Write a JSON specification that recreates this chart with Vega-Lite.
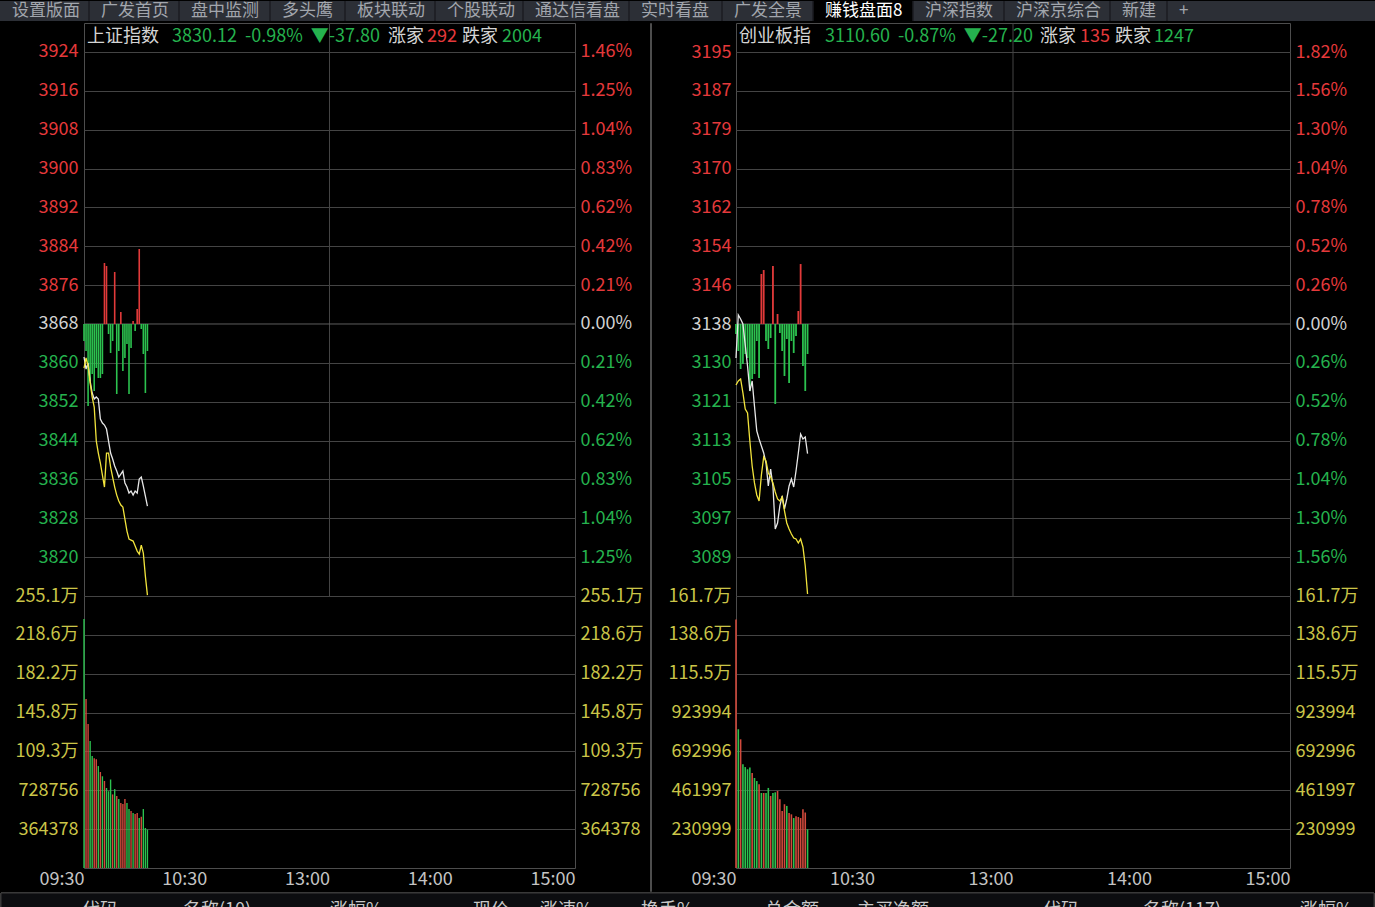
{
  "$schema": "https://vega.github.io/schema/vega-lite/v6.json",
  "background": "#000000",
  "padding": 0,
  "spacing": 0,
  "config": {
    "font": "Noto Sans CJK SC",
    "view": {"stroke": "#4d4d4d", "fill": null},
    "axis": {"labelFont": "Noto Sans CJK SC", "labelFontSize": 18, "domain": false, "ticks": false, "tickSize": 0, "labelFlush": false, "labelOverlap": false, "gridColor": "#444444", "gridWidth": 1, "title": null},
    "text": {"font": "Noto Sans CJK SC"},
    "concat": {"spacing": 0}
  },
  "datasets": {
    "sh": [
      {"t":"09:30","m":0,"px":3861.07,"avg":3858.78,"rgLevel":3864.39,"vol":2335000,"dir":"down"},
      {"t":"09:31","m":1,"px":3858.57,"avg":3860.86,"rgLevel":3862.31,"vol":1585000,"dir":"up"},
      {"t":"09:32","m":2,"px":3859.82,"avg":3859.20,"rgLevel":3850.90,"vol":1350000,"dir":"up"},
      {"t":"09:33","m":3,"px":3856.08,"avg":3855.67,"rgLevel":3856.09,"vol":1190000,"dir":"down"},
      {"t":"09:34","m":4,"px":3853.59,"avg":3852.76,"rgLevel":3857.54,"vol":1050000,"dir":"down"},
      {"t":"09:35","m":5,"px":3852.34,"avg":3850.68,"rgLevel":3854.01,"vol":1030000,"dir":"up"},
      {"t":"09:36","m":6,"px":3852.76,"avg":3843.62,"rgLevel":3858.79,"vol":1020000,"dir":"up"},
      {"t":"09:37","m":7,"px":3852.34,"avg":3841.13,"rgLevel":3856.71,"vol":956000,"dir":"down"},
      {"t":"09:38","m":8,"px":3848.19,"avg":3839.05,"rgLevel":3856.71,"vol":900000,"dir":"up"},
      {"t":"09:39","m":9,"px":3847.36,"avg":3836.56,"rgLevel":3857.54,"vol":860000,"dir":"down"},
      {"t":"09:40","m":10,"px":3846.94,"avg":3834.07,"rgLevel":3880.58,"vol":816000,"dir":"up"},
      {"t":"09:41","m":11,"px":3846.11,"avg":3841.13,"rgLevel":3879.96,"vol":750000,"dir":"down"},
      {"t":"09:42","m":12,"px":3843.62,"avg":3841.13,"rgLevel":3865.84,"vol":720000,"dir":"down"},
      {"t":"09:43","m":13,"px":3841.13,"avg":3838.22,"rgLevel":3861.90,"vol":830000,"dir":"down"},
      {"t":"09:44","m":14,"px":3839.88,"avg":3836.14,"rgLevel":3864.39,"vol":690000,"dir":"up"},
      {"t":"09:45","m":15,"px":3838.43,"avg":3834.07,"rgLevel":3878.72,"vol":740000,"dir":"down"},
      {"t":"09:46","m":16,"px":3837.39,"avg":3832.40,"rgLevel":3853.39,"vol":675000,"dir":"up"},
      {"t":"09:47","m":17,"px":3836.14,"avg":3831.16,"rgLevel":3862.31,"vol":647000,"dir":"down"},
      {"t":"09:48","m":18,"px":3836.77,"avg":3830.33,"rgLevel":3870.41,"vol":610000,"dir":"up"},
      {"t":"09:49","m":19,"px":3837.39,"avg":3829.91,"rgLevel":3858.16,"vol":600000,"dir":"up"},
      {"t":"09:50","m":20,"px":3834.90,"avg":3827.42,"rgLevel":3860.86,"vol":647000,"dir":"up"},
      {"t":"09:51","m":21,"px":3834.07,"avg":3824.93,"rgLevel":3863.77,"vol":610000,"dir":"down"},
      {"t":"09:52","m":22,"px":3832.82,"avg":3823.26,"rgLevel":3853.39,"vol":553000,"dir":"down"},
      {"t":"09:53","m":23,"px":3833.24,"avg":3823.06,"rgLevel":3862.94,"vol":534000,"dir":"up"},
      {"t":"09:54","m":24,"px":3832.41,"avg":3822.85,"rgLevel":3868.54,"vol":515000,"dir":"down"},
      {"t":"09:55","m":25,"px":3833.24,"avg":3821.81,"rgLevel":3866.47,"vol":506000,"dir":"up"},
      {"t":"09:56","m":26,"px":3832.82,"avg":3820.77,"rgLevel":3871.03,"vol":515000,"dir":"up"},
      {"t":"09:57","m":27,"px":3835.73,"avg":3820.15,"rgLevel":3883.49,"vol":469000,"dir":"down"},
      {"t":"09:58","m":28,"px":3836.14,"avg":3822.02,"rgLevel":3866.88,"vol":480000,"dir":"up"},
      {"t":"09:59","m":29,"px":3834.27,"avg":3820.36,"rgLevel":3861.69,"vol":553000,"dir":"down"},
      {"t":"10:00","m":30,"px":3832.20,"avg":3815.58,"rgLevel":3853.60,"vol":375000,"dir":"down"},
      {"t":"10:01","m":31,"px":3830.12,"avg":3811.63,"rgLevel":3862.31,"vol":360000,"dir":"down"}
    ],
    "cy": [
      {"t":"09:30","m":0,"px":3130.66,"avg":3125.00,"rgLevel":3135.70,"vol":1478000,"dir":"up"},
      {"t":"09:31","m":1,"px":3139.69,"avg":3125.84,"rgLevel":3132.13,"vol":825000,"dir":"down"},
      {"t":"09:32","m":2,"px":3138.85,"avg":3126.26,"rgLevel":3128.35,"vol":765000,"dir":"up"},
      {"t":"09:33","m":3,"px":3137.80,"avg":3123.32,"rgLevel":3129.40,"vol":617000,"dir":"down"},
      {"t":"09:34","m":4,"px":3133.39,"avg":3119.96,"rgLevel":3131.50,"vol":600000,"dir":"down"},
      {"t":"09:35","m":5,"px":3128.98,"avg":3119.12,"rgLevel":3130.66,"vol":587000,"dir":"down"},
      {"t":"09:36","m":6,"px":3123.74,"avg":3113.24,"rgLevel":3123.74,"vol":597000,"dir":"down"},
      {"t":"09:37","m":7,"px":3125.84,"avg":3107.99,"rgLevel":3126.26,"vol":565000,"dir":"up"},
      {"t":"09:38","m":8,"px":3120.59,"avg":3104.43,"rgLevel":3127.30,"vol":535000,"dir":"down"},
      {"t":"09:39","m":9,"px":3115.34,"avg":3101.91,"rgLevel":3134.23,"vol":517000,"dir":"down"},
      {"t":"09:40","m":10,"px":3113.66,"avg":3100.65,"rgLevel":3126.47,"vol":498000,"dir":"up"},
      {"t":"09:41","m":11,"px":3112.19,"avg":3106.11,"rgLevel":3148.30,"vol":446000,"dir":"down"},
      {"t":"09:42","m":12,"px":3110.72,"avg":3109.88,"rgLevel":3149.13,"vol":446000,"dir":"up"},
      {"t":"09:43","m":13,"px":3108.62,"avg":3109.04,"rgLevel":3134.23,"vol":446000,"dir":"down"},
      {"t":"09:44","m":14,"px":3103.80,"avg":3106.53,"rgLevel":3132.55,"vol":476000,"dir":"down"},
      {"t":"09:45","m":15,"px":3107.36,"avg":3105.69,"rgLevel":3134.86,"vol":428000,"dir":"up"},
      {"t":"09:46","m":16,"px":3103.80,"avg":3104.43,"rgLevel":3149.97,"vol":446000,"dir":"down"},
      {"t":"09:47","m":17,"px":3094.77,"avg":3102.54,"rgLevel":3121.01,"vol":450000,"dir":"down"},
      {"t":"09:48","m":18,"px":3096.03,"avg":3101.07,"rgLevel":3139.90,"vol":458000,"dir":"up"},
      {"t":"09:49","m":19,"px":3099.60,"avg":3100.65,"rgLevel":3135.91,"vol":408000,"dir":"up"},
      {"t":"09:50","m":20,"px":3101.70,"avg":3101.49,"rgLevel":3132.13,"vol":339000,"dir":"up"},
      {"t":"09:51","m":21,"px":3098.97,"avg":3098.55,"rgLevel":3126.89,"vol":379000,"dir":"up"},
      {"t":"09:52","m":22,"px":3101.07,"avg":3096.03,"rgLevel":3134.65,"vol":369000,"dir":"down"},
      {"t":"09:53","m":23,"px":3103.80,"avg":3094.77,"rgLevel":3125.42,"vol":327000,"dir":"up"},
      {"t":"09:54","m":24,"px":3105.27,"avg":3093.72,"rgLevel":3134.23,"vol":319000,"dir":"up"},
      {"t":"09:55","m":25,"px":3103.59,"avg":3092.88,"rgLevel":3131.71,"vol":297000,"dir":"down"},
      {"t":"09:56","m":26,"px":3106.94,"avg":3092.67,"rgLevel":3135.28,"vol":307000,"dir":"up"},
      {"t":"09:57","m":27,"px":3110.72,"avg":3091.83,"rgLevel":3140.53,"vol":303000,"dir":"up"},
      {"t":"09:58","m":28,"px":3114.71,"avg":3092.67,"rgLevel":3150.39,"vol":297000,"dir":"up"},
      {"t":"09:59","m":29,"px":3113.66,"avg":3090.99,"rgLevel":3128.98,"vol":349000,"dir":"up"},
      {"t":"10:00","m":30,"px":3114.08,"avg":3087.00,"rgLevel":3123.74,"vol":330000,"dir":"up"},
      {"t":"10:01","m":31,"px":3110.60,"avg":3081.13,"rgLevel":3131.50,"vol":230000,"dir":"down"}
    ]
  },
  "vconcat": [
    {
      "width": 1291,
      "height": 20,
      "view": {"fill": null, "stroke": null},
      "data": {"values": [
        {"i":0,"tab":"设置版面","active":false},
        {"i":1,"tab":"广发首页","active":false},
        {"i":2,"tab":"盘中监测","active":false},
        {"i":3,"tab":"多头鹰","active":false},
        {"i":4,"tab":"板块联动","active":false},
        {"i":5,"tab":"个股联动","active":false},
        {"i":6,"tab":"通达信看盘","active":false},
        {"i":7,"tab":"实时看盘","active":false},
        {"i":8,"tab":"广发全景","active":false},
        {"i":9,"tab":"赚钱盘面8","active":true},
        {"i":10,"tab":"沪深指数","active":false},
        {"i":11,"tab":"沪深京综合","active":false},
        {"i":12,"tab":"新建","active":false},
        {"i":13,"tab":"+","active":false}
      ]},
      "transform": [{"calculate": "datum.i + 1", "as": "j"}],
      "encoding": {
        "x": {"field": "i", "type": "quantitative", "axis": null,
          "scale": {"domain": [0,1,2,3,4,5,6,7,8,9,10,11,12,13,14,15], "range": [-84,5,95,186,261,351,439,545,638,729,829,920,1026,1083,1106,1291], "nice": false, "zero": false}}
      },
      "layer": [
        {"mark": {"type": "rect", "color": "#2c2f36"}, "encoding": {"x": {"datum": 0}, "x2": {"datum": 15}}},
        {"transform": [{"filter": "datum.active"}], "mark": {"type": "rect", "color": "#000000"}, "encoding": {"x2": {"field": "j"}}},
        {"transform": [{"filter": "datum.i > 0"}], "mark": {"type": "rule", "color": "#1b1d22", "strokeWidth": 1.5}, "encoding": {}},
        {"mark": {"type": "text", "align": "left", "baseline": "middle", "dx": 12, "fontSize": 17},
         "encoding": {"y": {"value": 10}, "text": {"field": "tab"},
           "color": {"condition": {"test": "datum.active", "value": "#ffffff"}, "value": "#a2a6ad"}}}
      ]
    },
    {
      "spacing": 0,
      "hconcat": [
        {
          "spacing": 0,
          "bounds": "flush",
          "vconcat": [
            {
              "width": 491, "height": 573,
              "resolve": {"scale": {"x": "independent", "color": "independent"}, "axis": {"y": "independent"}},
              "layer": [
                {
                  "data": {"values": [{}]},
                  "mark": {"type": "rule", "color": "#444444", "strokeWidth": 1},
                  "encoding": {"x": {"datum": 120, "type": "quantitative", "scale": {"domain": [0, 240], "nice": false, "zero": false}, "axis": null}}
                },
                {
                  "data": {"values": [{}]},
                  "mark": {"type": "rule", "color": "#5e5e5e", "strokeWidth": 1},
                  "encoding": {
                    "x": {"datum": 0, "type": "quantitative", "scale": {"domain": [0, 240], "nice": false, "zero": false}, "axis": null},
                    "x2": {"datum": 240},
                    "y": {"datum": 3867.92, "type": "quantitative", "scale": {"domain": [3811.45, 3930.41], "nice": false, "zero": false},
                      "axis": {"orient": "left", "grid": false, "labelPadding": 6, "minExtent": 82, "maxExtent": 82, "values": [3867.92], "labelColor": "#d2d2d2", "labelExpr": "format(datum.value, '.0f')"}}}
                },
                {
                  "data": {"values": [{}]},
                  "mark": {"type": "rule", "opacity": 0},
                  "encoding": {
                    "x": {"datum": 0, "type": "quantitative", "scale": {"domain": [0, 240], "nice": false, "zero": false}, "axis": null},
                    "x2": {"datum": 240},
                    "y": {"datum": 3867.92, "type": "quantitative", "scale": {"domain": [3811.45, 3930.41], "nice": false, "zero": false},
                      "axis": {"orient": "right", "grid": false, "labelPadding": 5, "minExtent": 73, "maxExtent": 73, "values": [3867.92], "labelColor": "#d2d2d2", "labelExpr": "'0.00%'"}}}
                },
                {
                  "data": {"values": [{}]},
                  "mark": {"type": "rule", "opacity": 0},
                  "encoding": {
                    "x": {"datum": 0, "type": "quantitative", "scale": {"domain": [0, 240], "nice": false, "zero": false}, "axis": null},
                    "x2": {"datum": 240},
                    "y": {"datum": 3867.92, "type": "quantitative", "scale": {"domain": [3811.45, 3930.41], "nice": false, "zero": false},
                      "axis": {"orient": "right", "grid": false, "labelPadding": 5, "minExtent": 73, "maxExtent": 73, "labelColor": "#25b24e",
                        "values": [3859.85,3851.79,3843.72,3835.65,3827.58,3819.52],
                        "labelExpr": "['0.00%','0.21%','0.42%','0.62%','0.83%','1.04%','1.25%','1.46%'][abs(round((datum.value - 3867.92) / 8.0671))]"}}}
                },
                {
                  "data": {"name": "sh"},
                  "mark": {"type": "rule", "strokeWidth": 1.6},
                  "encoding": {
                    "x": {"field": "m", "type": "quantitative", "scale": {"domain": [0, 240], "nice": false, "zero": false}, "axis": null},
                    "y": {"field": "rgLevel", "type": "quantitative", "scale": {"domain": [3811.45, 3930.41], "nice": false, "zero": false},
                      "axis": {"orient": "left", "grid": true, "labelPadding": 6, "minExtent": 82, "maxExtent": 82, "labelColor": "#25b24e",
                        "values": [3859.85,3851.79,3843.72,3835.65,3827.58,3819.52],
                        "labelExpr": "format(datum.value, '.0f')"}},
                    "y2": {"datum": 3867.92},
                    "color": {"condition": {"test": "datum.rgLevel > 3867.92", "value": "#e23a3a"}, "value": "#2cc24f"}
                  }
                },
                {
                  "data": {"name": "sh"},
                  "mark": {"type": "line", "color": "#e8e8e8", "strokeWidth": 1.3},
                  "encoding": {
                    "x": {"field": "m", "type": "quantitative", "scale": {"domain": [0, 240], "nice": false, "zero": false}, "axis": null},
                    "y": {"field": "px", "type": "quantitative", "scale": {"domain": [3811.45, 3930.41], "nice": false, "zero": false},
                      "axis": {"orient": "left", "grid": true, "labelPadding": 6, "minExtent": 82, "maxExtent": 82, "labelColor": "#e5393b",
                        "values": [3924.39,3916.32,3908.26,3900.19,3892.12,3884.05,3875.99],
                        "labelExpr": "format(datum.value, '.0f')"}}
                  }
                },
                {
                  "data": {"name": "sh"},
                  "mark": {"type": "line", "color": "#f2e43c", "strokeWidth": 1.3},
                  "encoding": {
                    "x": {"field": "m", "type": "quantitative", "scale": {"domain": [0, 240], "nice": false, "zero": false}, "axis": null},
                    "y": {"field": "avg", "type": "quantitative", "scale": {"domain": [3811.45, 3930.41], "nice": false, "zero": false},
                      "axis": {"orient": "right", "grid": false, "labelPadding": 5, "minExtent": 73, "maxExtent": 73, "labelColor": "#e5393b",
                        "values": [3924.39,3916.32,3908.26,3900.19,3892.12,3884.05,3875.99],
                        "labelExpr": "['0.00%','0.21%','0.42%','0.62%','0.83%','1.04%','1.25%','1.46%'][abs(round((datum.value - 3867.92) / 8.0671))]"}}
                  }
                },
                {
                  "data": {"values": [
                    {"k":0,"txt":"上证指数","tone":"name"},
                    {"k":1,"txt":"3830.12\u00a0 -0.98%\u00a0 ▼-37.80","tone":"down"},
                    {"k":2,"txt":"涨家","tone":"name"},
                    {"k":3,"txt":"292","tone":"up"},
                    {"k":4,"txt":"跌家","tone":"name"},
                    {"k":5,"txt":"2004","tone":"down"}
                  ]},
                  "mark": {"type": "text", "align": "left", "baseline": "middle", "fontSize": 18},
                  "encoding": {
                    "x": {"field": "k", "type": "quantitative", "axis": null, "scale": {"domain": [0,1,2,3,4,5], "range": [3,88,304,343,378,418], "nice": false, "zero": false}},
                    "y": {"value": 14},
                    "text": {"field": "txt"},
                    "color": {"field": "tone", "type": "nominal", "legend": null, "scale": {"domain": ["name","up","down"], "range": ["#d4d4d4","#e5393b","#25b24e"]}}
                  }
                }
              ]
            },
            {
              "width": 491, "height": 272,
              "data": {"name": "sh"},
              "resolve": {"axis": {"y": "independent"}},
              "encoding": {
                "x": {"field": "m", "type": "quantitative", "scale": {"domain": [0, 240], "nice": false, "zero": false},
                  "axis": {"orient": "bottom", "values": [0,60,120,180,240], "grid": false, "labelAlign": "right", "labelBaseline": "top", "labelPadding": 2, "labelColor": "#c4c4c4", "minExtent": 23, "maxExtent": 23,
                    "labelExpr": "['09:30','10:30','13:00','14:00','15:00'][round(datum.value / 60)]"}}
              },
              "layer": [
                {
                  "data": {"values": [{}]},
                  "mark": {"type": "rule", "color": "#444444", "strokeWidth": 1},
                  "encoding": {"x": {"datum": 120, "type": "quantitative"}}
                },
                {
                  "transform": [{"filter": "datum.dir === 'up'"}],
                  "mark": {"type": "rule", "color": "#d24a3c", "strokeWidth": 1.4},
                  "encoding": {
                    "y": {"field": "vol", "type": "quantitative", "scale": {"domain": [0, 2550646], "nice": false},
                      "axis": {"orient": "left", "grid": true, "labelPadding": 6, "minExtent": 82, "maxExtent": 82, "labelColor": "#cbc548",
                        "values": [364378,728756,1093134,1457512,1821890,2186268,2550646],
                        "labelExpr": "datum.value >= 1000000 ? format(datum.value / 10000, '.1f') + '万' : format(datum.value, '.0f')"}},
                    "y2": {"datum": 0}
                  }
                },
                {
                  "transform": [{"filter": "datum.dir === 'down'"}],
                  "mark": {"type": "rule", "color": "#2cc24f", "strokeWidth": 1.4},
                  "encoding": {
                    "y": {"field": "vol", "type": "quantitative", "scale": {"domain": [0, 2550646], "nice": false},
                      "axis": {"orient": "right", "grid": false, "labelPadding": 5, "minExtent": 73, "maxExtent": 73, "labelColor": "#cbc548",
                        "values": [364378,728756,1093134,1457512,1821890,2186268,2550646],
                        "labelExpr": "datum.value >= 1000000 ? format(datum.value / 10000, '.1f') + '万' : format(datum.value, '.0f')"}},
                    "y2": {"datum": 0}
                  }
                }
              ]
            }
          ]
        },
        {
          "width": 1, "height": 868,
          "data": {"values": [{}]},
          "view": {"stroke": "#4d4d4d", "fill": null},
          "mark": {"type": "rule", "opacity": 0},
          "encoding": {}
        },
        {
          "spacing": 0,
          "bounds": "flush",
          "vconcat": [
            {
              "width": 554, "height": 573,
              "resolve": {"scale": {"x": "independent", "color": "independent"}, "axis": {"y": "independent"}},
              "layer": [
                {
                  "data": {"values": [{}]},
                  "mark": {"type": "rule", "color": "#444444", "strokeWidth": 1},
                  "encoding": {"x": {"datum": 120, "type": "quantitative", "scale": {"domain": [0, 240], "nice": false, "zero": false}, "axis": null}}
                },
                {
                  "data": {"values": [{}]},
                  "mark": {"type": "rule", "color": "#5e5e5e", "strokeWidth": 1},
                  "encoding": {
                    "x": {"datum": 0, "type": "quantitative", "scale": {"domain": [0, 240], "nice": false, "zero": false}, "axis": null},
                    "x2": {"datum": 240},
                    "y": {"datum": 3137.80, "type": "quantitative", "scale": {"domain": [3080.70, 3200.99], "nice": false, "zero": false},
                      "axis": {"orient": "left", "grid": false, "labelPadding": 5, "minExtent": 83, "maxExtent": 83, "values": [3137.80], "labelColor": "#d2d2d2", "labelExpr": "format(datum.value, '.0f')"}}}
                },
                {
                  "data": {"values": [{}]},
                  "mark": {"type": "rule", "opacity": 0},
                  "encoding": {
                    "x": {"datum": 0, "type": "quantitative", "scale": {"domain": [0, 240], "nice": false, "zero": false}, "axis": null},
                    "x2": {"datum": 240},
                    "y": {"datum": 3137.80, "type": "quantitative", "scale": {"domain": [3080.70, 3200.99], "nice": false, "zero": false},
                      "axis": {"orient": "right", "grid": false, "labelPadding": 5, "minExtent": 85, "maxExtent": 85, "values": [3137.80], "labelColor": "#d2d2d2", "labelExpr": "'0.00%'"}}}
                },
                {
                  "data": {"values": [{}]},
                  "mark": {"type": "rule", "opacity": 0},
                  "encoding": {
                    "x": {"datum": 0, "type": "quantitative", "scale": {"domain": [0, 240], "nice": false, "zero": false}, "axis": null},
                    "x2": {"datum": 240},
                    "y": {"datum": 3137.80, "type": "quantitative", "scale": {"domain": [3080.70, 3200.99], "nice": false, "zero": false},
                      "axis": {"orient": "right", "grid": false, "labelPadding": 5, "minExtent": 85, "maxExtent": 85, "labelColor": "#25b24e",
                        "values": [3129.64,3121.48,3113.33,3105.17,3097.01,3088.85],
                        "labelExpr": "['0.00%','0.26%','0.52%','0.78%','1.04%','1.30%','1.56%','1.82%'][abs(round((datum.value - 3137.80) / 8.1577))]"}}}
                },
                {
                  "data": {"name": "cy"},
                  "mark": {"type": "rule", "strokeWidth": 1.8},
                  "encoding": {
                    "x": {"field": "m", "type": "quantitative", "scale": {"domain": [0, 240], "nice": false, "zero": false}, "axis": null},
                    "y": {"field": "rgLevel", "type": "quantitative", "scale": {"domain": [3080.70, 3200.99], "nice": false, "zero": false},
                      "axis": {"orient": "left", "grid": true, "labelPadding": 5, "minExtent": 83, "maxExtent": 83, "labelColor": "#25b24e",
                        "values": [3129.64,3121.48,3113.33,3105.17,3097.01,3088.85],
                        "labelExpr": "format(datum.value, '.0f')"}},
                    "y2": {"datum": 3137.80},
                    "color": {"condition": {"test": "datum.rgLevel > 3137.80", "value": "#e23a3a"}, "value": "#2cc24f"}
                  }
                },
                {
                  "data": {"name": "cy"},
                  "mark": {"type": "line", "color": "#e8e8e8", "strokeWidth": 1.3},
                  "encoding": {
                    "x": {"field": "m", "type": "quantitative", "scale": {"domain": [0, 240], "nice": false, "zero": false}, "axis": null},
                    "y": {"field": "px", "type": "quantitative", "scale": {"domain": [3080.70, 3200.99], "nice": false, "zero": false},
                      "axis": {"orient": "left", "grid": true, "labelPadding": 5, "minExtent": 83, "maxExtent": 83, "labelColor": "#e5393b",
                        "values": [3194.90,3186.75,3178.59,3170.43,3162.27,3154.12,3145.96],
                        "labelExpr": "format(datum.value, '.0f')"}}
                  }
                },
                {
                  "data": {"name": "cy"},
                  "mark": {"type": "line", "color": "#f2e43c", "strokeWidth": 1.3},
                  "encoding": {
                    "x": {"field": "m", "type": "quantitative", "scale": {"domain": [0, 240], "nice": false, "zero": false}, "axis": null},
                    "y": {"field": "avg", "type": "quantitative", "scale": {"domain": [3080.70, 3200.99], "nice": false, "zero": false},
                      "axis": {"orient": "right", "grid": false, "labelPadding": 5, "minExtent": 85, "maxExtent": 85, "labelColor": "#e5393b",
                        "values": [3194.90,3186.75,3178.59,3170.43,3162.27,3154.12,3145.96],
                        "labelExpr": "['0.00%','0.26%','0.52%','0.78%','1.04%','1.30%','1.56%','1.82%'][abs(round((datum.value - 3137.80) / 8.1577))]"}}
                  }
                },
                {
                  "data": {"values": [
                    {"k":0,"txt":"创业板指","tone":"name"},
                    {"k":1,"txt":"3110.60\u00a0 -0.87%\u00a0 ▼-27.20","tone":"down"},
                    {"k":2,"txt":"涨家","tone":"name"},
                    {"k":3,"txt":"135","tone":"up"},
                    {"k":4,"txt":"跌家","tone":"name"},
                    {"k":5,"txt":"1247","tone":"down"}
                  ]},
                  "mark": {"type": "text", "align": "left", "baseline": "middle", "fontSize": 18},
                  "encoding": {
                    "x": {"field": "k", "type": "quantitative", "axis": null, "scale": {"domain": [0,1,2,3,4,5], "range": [3,89,304,344,379,418], "nice": false, "zero": false}},
                    "y": {"value": 14},
                    "text": {"field": "txt"},
                    "color": {"field": "tone", "type": "nominal", "legend": null, "scale": {"domain": ["name","up","down"], "range": ["#d4d4d4","#e5393b","#25b24e"]}}
                  }
                }
              ]
            },
            {
              "width": 554, "height": 272,
              "data": {"name": "cy"},
              "resolve": {"axis": {"y": "independent"}},
              "encoding": {
                "x": {"field": "m", "type": "quantitative", "scale": {"domain": [0, 240], "nice": false, "zero": false},
                  "axis": {"orient": "bottom", "values": [0,60,120,180,240], "grid": false, "labelAlign": "right", "labelBaseline": "top", "labelPadding": 2, "labelColor": "#c4c4c4", "minExtent": 23, "maxExtent": 23,
                    "labelExpr": "['09:30','10:30','13:00','14:00','15:00'][round(datum.value / 60)]"}}
              },
              "layer": [
                {
                  "data": {"values": [{}]},
                  "mark": {"type": "rule", "color": "#444444", "strokeWidth": 1},
                  "encoding": {"x": {"datum": 120, "type": "quantitative"}}
                },
                {
                  "transform": [{"filter": "datum.dir === 'up'"}],
                  "mark": {"type": "rule", "color": "#d24a3c", "strokeWidth": 1.6},
                  "encoding": {
                    "y": {"field": "vol", "type": "quantitative", "scale": {"domain": [0, 1616990], "nice": false},
                      "axis": {"orient": "left", "grid": true, "labelPadding": 5, "minExtent": 83, "maxExtent": 83, "labelColor": "#cbc548",
                        "values": [230998.57,461997.14,692995.71,923994.29,1154992.86,1385991.43,1616990],
                        "labelExpr": "datum.value >= 1000000 ? format(datum.value / 10000, '.1f') + '万' : format(datum.value, '.0f')"}},
                    "y2": {"datum": 0}
                  }
                },
                {
                  "transform": [{"filter": "datum.dir === 'down'"}],
                  "mark": {"type": "rule", "color": "#2cc24f", "strokeWidth": 1.6},
                  "encoding": {
                    "y": {"field": "vol", "type": "quantitative", "scale": {"domain": [0, 1616990], "nice": false},
                      "axis": {"orient": "right", "grid": false, "labelPadding": 5, "minExtent": 85, "maxExtent": 85, "labelColor": "#cbc548",
                        "values": [230998.57,461997.14,692995.71,923994.29,1154992.86,1385991.43,1616990],
                        "labelExpr": "datum.value >= 1000000 ? format(datum.value / 10000, '.1f') + '万' : format(datum.value, '.0f')"}},
                    "y2": {"datum": 0}
                  }
                }
              ]
            }
          ]
        }
      ]
    },
    {
      "width": 1291,
      "height": 16,
      "view": {"fill": null, "stroke": null},
      "data": {"values": [
        {"k":0,"col":"－"},
        {"k":1,"col":"代码"},
        {"k":2,"col":"名称(10)"},
        {"k":3,"col":"涨幅%"},
        {"k":4,"col":"现价"},
        {"k":5,"col":"涨速%"},
        {"k":6,"col":"换手%"},
        {"k":7,"col":"总金额"},
        {"k":8,"col":"主买净额"},
        {"k":9,"col":"－"},
        {"k":10,"col":"代码"},
        {"k":11,"col":"名称(117)"},
        {"k":12,"col":"涨幅%"}
      ]},
      "encoding": {
        "x": {"field": "k", "type": "quantitative", "axis": null,
          "scale": {"domain": [-1,0,1,2,3,4,5,6,7,8,9,10,11,12,13], "range": [-83,-59,-2,99,246,389,456,557,681,773,901,959,1059,1216,1290], "nice": false, "zero": false}}
      },
      "layer": [
        {"mark": {"type": "rect", "color": "#0c0d10", "stroke": "#3a3a3a", "strokeWidth": 1}, "encoding": {"x": {"datum": -1}, "x2": {"datum": 13}}},
        {"mark": {"type": "text", "align": "left", "baseline": "middle", "fontSize": 18, "color": "#c8c8c8"},
         "encoding": {"y": {"value": 18}, "text": {"field": "col"}}}
      ]
    }
  ]
}
